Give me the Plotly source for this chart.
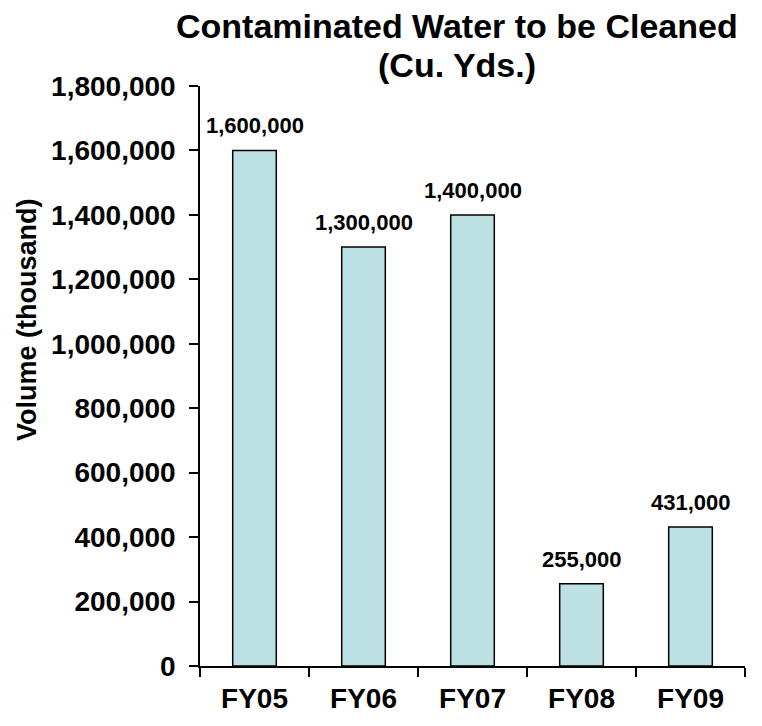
import plotly.graph_objects as go

categories = ["FY05", "FY06", "FY07", "FY08", "FY09"]
values = [1600000, 1300000, 1400000, 255000, 431000]
labels = [f"{v:,}" for v in values]
tick_vals = list(range(0, 1800001, 200000))
tick_text = [f"{v:,}" for v in tick_vals]
title_lines = ["Contaminated Water to be Cleaned", "(Cu. Yds.)"]
y_title = "Volume (thousand)"

FONT = "Liberation Sans, Arial, sans-serif"
L, R, T, B = 200, 17, 86, 55
W, H = 762, 726
pw, ph = W - L - R, H - T - B

def px_x(x):
    return (x - L) / pw

def px_y(y):
    return (H - B - y) / ph

fig = go.Figure(go.Bar(
    x=categories, y=values,
    marker=dict(color="#BDE0E3", line=dict(color="black", width=1.5)),
    width=0.4,
))

annotations = []
for c, v, t in zip(categories, values, labels):
    annotations.append(dict(
        x=c, y=v, xref="x", yref="y", text=f"<b>{t}</b>", showarrow=False,
        yanchor="bottom", yshift=10, font=dict(size=22, family=FONT, color="black"),
    ))
for line, yc in zip(title_lines, [25, 65]):
    annotations.append(dict(
        x=px_x(457), y=px_y(yc), xref="paper", yref="paper",
        text=f"<b>{line}</b>", showarrow=False,
        xanchor="center", yanchor="middle", font=dict(size=34, family=FONT, color="black"),
    ))
annotations.append(dict(
    x=px_x(27), y=px_y(322), xref="paper", yref="paper",
    text=f"<b>{y_title}</b>", showarrow=False, textangle=-90,
    xanchor="center", yanchor="middle", font=dict(size=27, family=FONT, color="black"),
))

fig.update_layout(
    width=W, height=H,
    margin=dict(l=L, r=R, t=T, b=B),
    paper_bgcolor="white", plot_bgcolor="white",
    font=dict(family=FONT, color="black"),
    showlegend=False,
    annotations=annotations,
)
fig.update_yaxes(
    range=[0, 1800000], tickvals=tick_vals, ticktext=[f"<b>{t}</b>" for t in tick_text],
    tickfont=dict(size=28), showline=True, linecolor="black", linewidth=1.5,
    ticks="outside", ticklen=9, tickcolor="black", tickwidth=1.5, showgrid=False,
    zeroline=False, ticklabelstandoff=8,
)
fig.update_xaxes(
    tickvals=categories, ticktext=[f"<b>{c}</b>" for c in categories],
    tickfont=dict(size=28), showline=True, linecolor="black", linewidth=1.5,
    ticks="outside", ticklen=9, tickcolor="black", tickwidth=1.5, tickson="boundaries",
    showgrid=False, ticklabelstandoff=7,
)
fig.write_html("out.html", config={"displayModeBar": False},
               post_script="document.body.style.margin='0px';")
